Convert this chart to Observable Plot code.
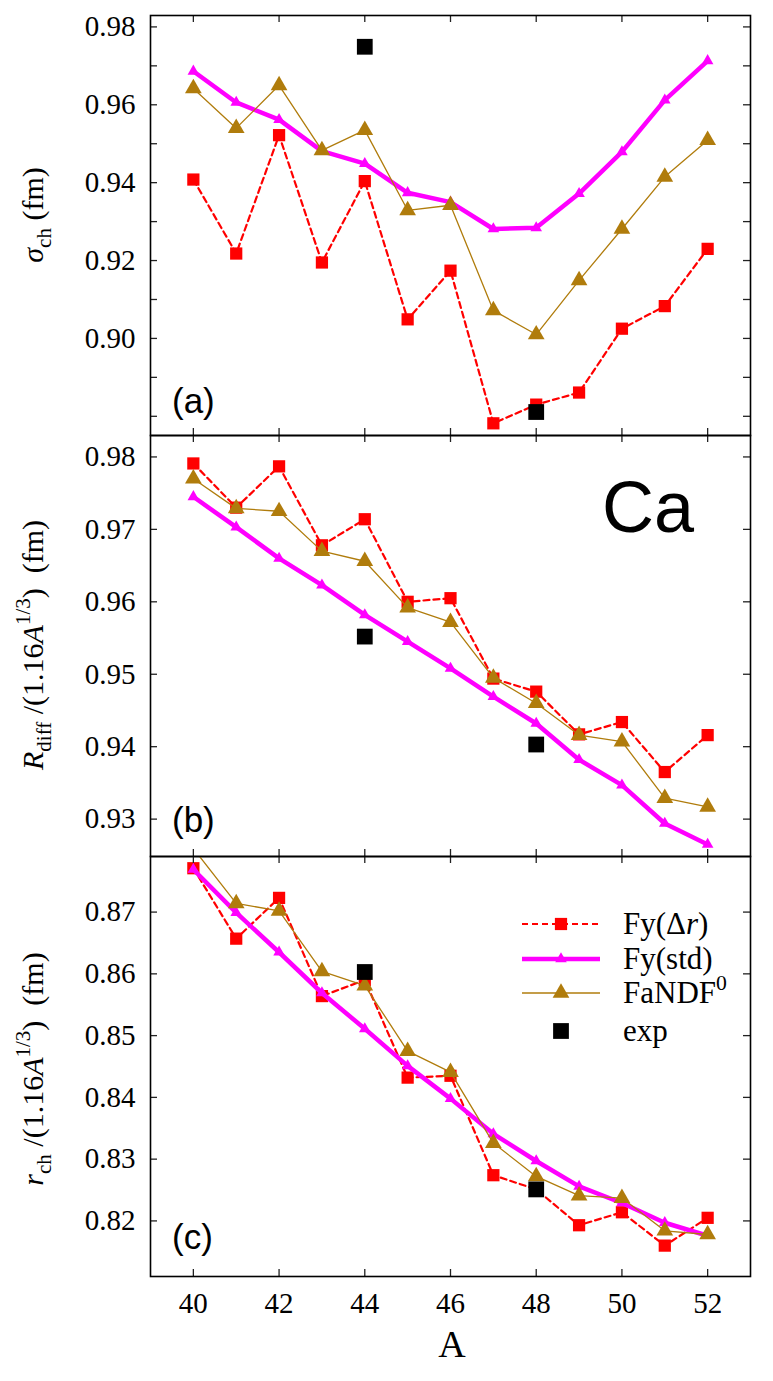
<!DOCTYPE html>
<html><head><meta charset="utf-8">
<script src="https://cdn.jsdelivr.net/npm/d3@7"></script>
<script src="https://cdn.jsdelivr.net/npm/@observablehq/plot@0.6"></script>
<style>
body{margin:0;background:#fff;}
#chart svg{display:block;}
#chart svg text{font-family:'Liberation Serif','Times New Roman',serif;}
</style></head><body><div id="chart"></div>
<script>
// ---- data ----
const A = [40, 41, 42, 43, 44, 45, 46, 47, 48, 49, 50, 51, 52];
const xTicks = [40, 42, 44, 46, 48, 50, 52];

// (a) sigma_ch (fm)
const sigFyDr  = [0.9408, 0.9218, 0.9522, 0.9195, 0.9404, 0.9049, 0.9174, 0.8782, 0.8830, 0.8861, 0.9025, 0.9083, 0.9230];
const sigFyStd = [0.9686, 0.9606, 0.9562, 0.9481, 0.9449, 0.9374, 0.9350, 0.9281, 0.9284, 0.9372, 0.9479, 0.9612, 0.9713];
const sigFaNDF = [0.9642, 0.9540, 0.9650, 0.9483, 0.9535, 0.9329, 0.9342, 0.9072, 0.9010, 0.9149, 0.9281, 0.9415, 0.9509];
const sigExp   = [null, null, null, null, 0.9749, null, null, null, 0.8811, null, null, null, null];
const sigTicks  = [0.88, 0.89, 0.90, 0.91, 0.92, 0.93, 0.94, 0.95, 0.96, 0.97, 0.98];
const sigLabels = [0.90, 0.92, 0.94, 0.96, 0.98];

// (b) R_diff/(1.16 A^1/3)
const rdFyDr  = [0.9791, 0.9730, 0.9787, 0.9678, 0.9714, 0.9600, 0.9605, 0.9494, 0.9476, 0.9417, 0.9434, 0.9365, 0.9416];
const rdFyStd = [0.9745, 0.9703, 0.9660, 0.9623, 0.9582, 0.9545, 0.9508, 0.9469, 0.9432, 0.9382, 0.9347, 0.9294, 0.9265];
const rdFaNDF = [0.9770, 0.9729, 0.9725, 0.9670, 0.9656, 0.9592, 0.9572, 0.9495, 0.9460, 0.9416, 0.9407, 0.9329, 0.9317];
const rdExp   = [null, null, null, null, 0.9552, null, null, null, 0.9403, null, null, null, null];
const rdTicks  = [0.93, 0.94, 0.95, 0.96, 0.97, 0.98];
const rdLabels = [0.93, 0.94, 0.95, 0.96, 0.97, 0.98];

// (c) r_ch/(1.16 A^1/3)
const rcFyDr  = [0.8771, 0.8657, 0.8723, 0.8564, 0.8590, 0.8432, 0.8435, 0.8274, 0.8251, 0.8193, 0.8214, 0.8160, 0.8205];
const rcFyStd = [0.8769, 0.8699, 0.8635, 0.8569, 0.8511, 0.8451, 0.8398, 0.8341, 0.8297, 0.8256, 0.8229, 0.8197, 0.8176];
const rcFaNDF = [0.8803, 0.8714, 0.8702, 0.8604, 0.8581, 0.8475, 0.8441, 0.8326, 0.8272, 0.8241, 0.8237, 0.8184, 0.8178];
const rcExp   = [null, null, null, null, 0.8603, null, null, null, 0.8251, null, null, null, null];
const rcTicks  = [0.82, 0.83, 0.84, 0.85, 0.86, 0.87];
const rcLabels = [0.82, 0.83, 0.84, 0.85, 0.86, 0.87];

// ---- style ----
const RED = "#ff0000", MAG = "#ff00ff", BROWN = "#b07c0c";
const SERIF = "'Liberation Serif', 'Times New Roman', serif";
const SANS = "'Liberation Sans', Arial, sans-serif";
const W = 773, ML = 150, MR = 23;
const R_SQ = 6.9, R_TRI_S = 4.3, R_TRI_L = 6.2, R_EXP = 8.9;

function rows(vals) { return A.map((a, i) => ({A: a, v: vals[i]})).filter(d => d.v != null); }

function panel(cfg) {
  const plotW = W - ML - MR, plotH = cfg.height - cfg.marginTop - cfg.marginBottom;
  const tk = {stroke: "#222", strokeWidth: 1.3};
  const marks = [
    Plot.line(rows(cfg.dr), {x: "A", y: "v", stroke: RED, strokeWidth: 2.2, strokeDasharray: "6,4", clip: true}),
    Plot.dot(rows(cfg.dr), {x: "A", y: "v", symbol: "square", r: R_SQ, fill: RED, clip: true}),
    Plot.line(rows(cfg.std), {x: "A", y: "v", stroke: MAG, strokeWidth: 4.5, clip: true}),
    Plot.dot(rows(cfg.std), {x: "A", y: "v", symbol: "triangle", r: R_TRI_S, fill: MAG, clip: true}),
    Plot.line(rows(cfg.fa), {x: "A", y: "v", stroke: BROWN, strokeWidth: 1.3, clip: true}),
    Plot.dot(rows(cfg.fa), {x: "A", y: "v", symbol: "triangle", r: R_TRI_L, fill: BROWN, clip: true}),
    Plot.dot(rows(cfg.exp), {x: "A", y: "v", symbol: "square", r: R_EXP, fill: "black", clip: true}),
    Plot.tickY(cfg.yTicks, {y: d => d, insetRight: plotW - 7, ...tk}),
    Plot.tickY(cfg.yTicks, {y: d => d, insetLeft: plotW - 7, ...tk}),
    Plot.tickX(xTicks, {x: d => d, insetBottom: plotH - 7, ...tk}),
    Plot.tickX(xTicks, {x: d => d, insetTop: plotH - 7, ...tk}),
    Plot.axisY(cfg.yLabels, {tickSize: 0, tickPadding: 15, tickFormat: d3.format(".2f"), label: null,
      fontSize: 29, fontFamily: SERIF, fill: "black"}),
    Plot.frame({stroke: "black", strokeWidth: 1.6})
  ];
  if (cfg.xAxis) marks.push(Plot.axisX(xTicks, {tickSize: 0, tickPadding: 16, label: null,
      fontSize: 29, fontFamily: SERIF, fill: "black"}));
  const opts = {
    width: W, height: cfg.height,
    marginLeft: ML, marginRight: MR, marginTop: cfg.marginTop, marginBottom: cfg.marginBottom,
    x: cfg.xAxis ? {domain: [39, 53]} : {domain: [39, 53], axis: null},
    y: {domain: cfg.yDomain},
    style: {fontFamily: SERIF, fontSize: "29px", color: "black", background: "transparent", overflow: "visible"},
    marks
  };
  const svg = Plot.plot(opts);
  d3.select(svg).selectAll("text").style("font-family", SERIF).style("font-size", "29px");
  d3.select(svg).selectAll("g").filter(function() { return this.querySelector("text"); })
    .style("font-family", SERIF);
  return svg;
}

function addText(svg, x, y, parts, {rotate = 0, anchor = "start", size = 29, family = SERIF} = {}) {
  const t = d3.select(svg).append("text")
    .attr("transform", `translate(${x},${y}) rotate(${rotate})`)
    .attr("text-anchor", anchor)
    .attr("fill", "black");
  t.node().style.setProperty("font-family", family, "important");
  t.style("font-size", size + "px");
  let shift = 0;
  for (const p of parts) {
    const s = t.append("tspan").text(p.t);
    if (p.i) s.attr("font-style", "italic");
    const target = p.sub ? size * 0.28 : p.sup ? -size * 0.42 : 0;
    if (target !== shift) { s.attr("dy", target - shift); shift = target; }
    if (p.sub || p.sup) s.style("font-size", (size * 0.7) + "px");
  }
  return t;
}

const chart = document.getElementById("chart");

// panel (a)
const pa = panel({height: 435, marginTop: 15, marginBottom: 0, yDomain: [0.87507, 0.98293],
  dr: sigFyDr, std: sigFyStd, fa: sigFaNDF, exp: sigExp, yTicks: sigTicks, yLabels: sigLabels, xAxis: false});
addText(pa, 43, 215, [{t: "σ", i: true}, {t: "ch", sub: true}, {t: " (fm)"}], {rotate: -90, anchor: "middle", size: 30});
addText(pa, 172, 413, [{t: "(a)"}], {family: SANS, size: 35});
chart.appendChild(pa);

// panel (b)
const pb = panel({height: 421, marginTop: 0, marginBottom: 0, yDomain: [0.92484, 0.98296],
  dr: rdFyDr, std: rdFyStd, fa: rdFaNDF, exp: rdExp, yTicks: rdTicks, yLabels: rdLabels, xAxis: false});
addText(pb, 43, 210, [{t: "R", i: true}, {t: "diff", sub: true}, {t: " /(1.16"}, {t: "A", i: true}, {t: "1/3", sup: true}, {t: ")  (fm)"}], {rotate: -90, anchor: "middle", size: 30});
addText(pb, 172, 397, [{t: "(b)"}], {family: SANS, size: 35});
addText(pb, 648, 97, [{t: "Ca"}], {family: SANS, size: 72, anchor: "middle"});
chart.appendChild(pb);

// panel (c)
const pc = panel({height: 525, marginTop: 0, marginBottom: 105, yDomain: [0.8110, 0.8790],
  dr: rcFyDr, std: rcFyStd, fa: rcFaNDF, exp: rcExp, yTicks: rcTicks, yLabels: rcLabels, xAxis: true});
addText(pc, 43, 213, [{t: "r", i: true}, {t: "ch", sub: true}, {t: " /(1.16"}, {t: "A", i: true}, {t: "1/3", sup: true}, {t: ")  (fm)"}], {rotate: -90, anchor: "middle", size: 30});
addText(pc, 172, 393, [{t: "(c)"}], {family: SANS, size: 35});
addText(pc, 452, 501, [{t: "A"}], {size: 38, anchor: "middle"});

// legend
const legendItems = [
  {parts: [{t: "Fy(Δ"}, {t: "r", i: true}, {t: ")"}], color: RED, width: 2.2, dash: "6,4", symbol: d3.symbolSquare, r: R_SQ},
  {parts: [{t: "Fy(std)"}], color: MAG, width: 4.5, dash: null, symbol: d3.symbolTriangle, r: R_TRI_S},
  {parts: [{t: "FaNDF"}, {t: "0", sup: true}], color: BROWN, width: 1.3, dash: null, symbol: d3.symbolTriangle, r: R_TRI_L},
  {parts: [{t: "exp"}], color: "black", width: 0, dash: null, symbol: d3.symbolSquare, r: R_EXP}
];
const legY = [68, 103, 137, 175];
const lg = d3.select(pc).append("g");
legendItems.forEach((it, i) => {
  const y = legY[i];
  if (it.width > 0) {
    const ln = lg.append("line").attr("x1", 522).attr("x2", 600).attr("y1", y).attr("y2", y)
      .attr("stroke", it.color).attr("stroke-width", it.width);
    if (it.dash) ln.attr("stroke-dasharray", it.dash);
  }
  lg.append("path").attr("d", d3.symbol(it.symbol, Math.PI * it.r * it.r)())
    .attr("transform", `translate(561,${y})`).attr("fill", it.color);
  addText(pc, 623, y + 10, it.parts, {size: 31});
});
chart.appendChild(pc);
</script></body></html>
